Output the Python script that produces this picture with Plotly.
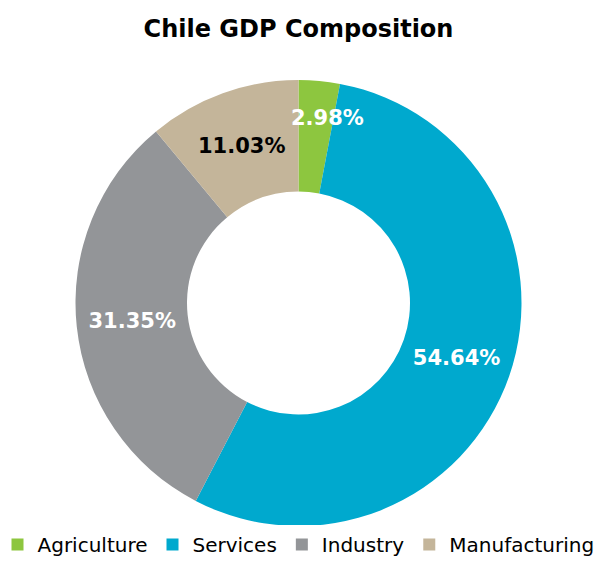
import math
import plotly.graph_objects as go

labels = ["Agriculture", "Services", "Industry", "Manufacturing"]
values = [2.98, 54.64, 31.35, 11.03]
colors = ["#8DC63F", "#00A9CE", "#939598", "#C4B59A"]
text_colors = ["white", "white", "white", "black"]
text_labels = [f"{v:.2f}%" for v in values]

W, H = 597, 564
top_px, bottom_px = 80, 38
dom_y = [bottom_px / H, 1 - top_px / H]

# the thin first slice gets its label as an annotation, like the original
pie_text = ["" if v < 5 else t for v, t in zip(values, text_labels)]

fig = go.Figure(go.Pie(
    labels=labels,
    values=values,
    text=pie_text,
    textinfo="text",
    textposition="inside",
    insidetextorientation="horizontal",
    hole=0.5,
    sort=False,
    direction="clockwise",
    rotation=0,
    domain=dict(x=[0, 1], y=dom_y),
    marker=dict(colors=colors, line=dict(width=0)),
    textfont=dict(family="DejaVu Sans", size=21, color=text_colors, weight="bold"),
))

# annotation for thin slices, placed from the data
total = sum(values)
R = (H - top_px - bottom_px) / 2
cx, cy = W / 2, top_px + R
cum = 0
annotations = []
for v, t, c in zip(values, text_labels, text_colors):
    if v < 5:
        ang = 2 * math.pi * (cum + v / 2) / total + 0.05
        r = 0.9 * R
        xp = cx + r * math.sin(ang)
        yp = cy - r * math.cos(ang)
        annotations.append(dict(x=xp / W, y=1 - yp / H, xref="paper", yref="paper",
                                text=f"<b>{t}</b>", showarrow=False,
                                font=dict(family="DejaVu Sans", size=21, color=c)))
    cum += v

fig.update_layout(
    width=W, height=H,
    paper_bgcolor="white",
    margin=dict(l=0, r=0, t=0, b=0),
    title=dict(text="<b>Chile GDP Composition</b>", x=0.5, xanchor="center", y=0.95, yanchor="middle",
               font=dict(family="DejaVu Sans", size=24, color="black")),
    uniformtext=dict(minsize=21, mode="show"),
    annotations=annotations,
    legend=dict(orientation="h", x=0.5, xanchor="center", y=0.0, yanchor="bottom",
                font=dict(family="DejaVu Sans", size=20, color="black"), traceorder="normal"),
)

fig.write_html("out.html")
